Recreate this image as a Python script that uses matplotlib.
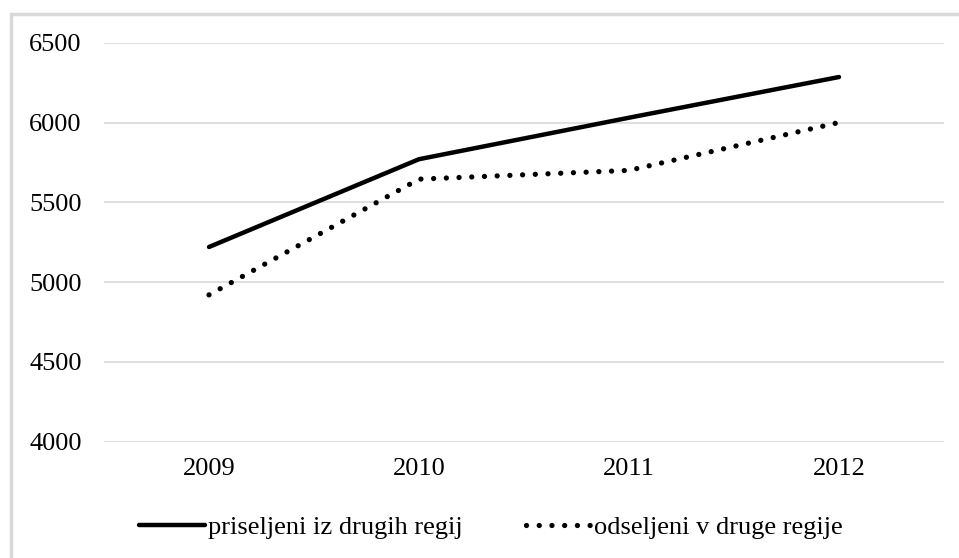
import matplotlib
matplotlib.use("Agg")
import matplotlib.pyplot as plt
from matplotlib.patches import Rectangle

years = ["2009", "2010", "2011", "2012"]
priseljeni = [5220, 5770, 6030, 6285]
odseljeni = [4920, 5645, 5700, 6000]
yticks = [4000, 4500, 5000, 5500, 6000, 6500]

plt.rcParams['font.family'] = ['Liberation Serif', 'DejaVu Serif']

W, H = 959, 558
fig = plt.figure(figsize=(W/100, H/100), dpi=100)
ax = fig.add_axes([104/W, 1-441.7/H, (944-104)/W, (441.7-42.7)/H])

x = list(range(len(years)))
ax.plot(x, priseljeni, color='black', lw=3.2, solid_capstyle='round',
        label='priseljeni iz drugih regij')
ax.plot(x, odseljeni, color='black', lw=3.8, linestyle=(0, (0.01, 2.4)),
        dash_capstyle='round', label='odseljeni v druge regije')

ax.set_xlim(-0.5, 3.5)
ax.set_ylim(4000, 6500)
ax.set_yticks(yticks)
ax.set_yticklabels([str(v) for v in yticks])
ax.set_xticks(x)
ax.set_xticklabels(years)
ax.grid(axis='y', color='#d9d9d9', lw=1.2)
ax.set_axisbelow(True)
for s in ax.spines.values():
    s.set_visible(False)
ax.tick_params(axis='both', length=0, labelsize=19, colors='#000000')
ax.tick_params(axis='y', pad=16)
ax.tick_params(axis='x', pad=12)

leg = fig.legend(loc='center', bbox_to_anchor=(0.512, 1-527/H), ncol=2,
                 frameon=False, fontsize=19, handlelength=2.5,
                 handletextpad=0.1, columnspacing=2.4)

fig.patches.append(Rectangle((11/W, -0.05), 1.2, 1 - 14/H + 0.05,
                             transform=fig.transFigure, fill=False,
                             edgecolor='#d9d9d9', lw=2.5))

fig.savefig("out.png", dpi=100)
